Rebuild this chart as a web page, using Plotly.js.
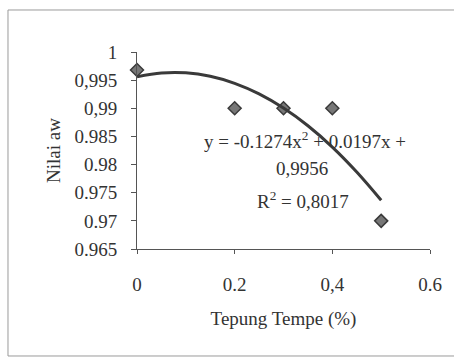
<!DOCTYPE html>
<html>
<head>
<meta charset="utf-8">
<script src="https://cdn.plot.ly/plotly-3.0.1.min.js"></script>
<style>
html,body{margin:0;padding:0;background:#fff;}
#chart{width:454px;height:358px;}
</style>
</head>
<body>
<div id="chart"></div>
<script>
// Observed data
var tepungTempe = [0, 0.2, 0.3, 0.4, 0.5];
var nilaiAw = [0.9968, 0.990, 0.990, 0.990, 0.970];

// Trendline points
var trendX = [0, 0.05, 0.1, 0.15, 0.2, 0.25, 0.3, 0.35, 0.4, 0.45, 0.5];
var trendY = [0.9956, 0.99627, 0.99630, 0.99569, 0.99444, 0.99256, 0.99004, 0.98689, 0.98310, 0.97867, 0.97365];

// Tick labels
var yTickVals = [0.965, 0.97, 0.975, 0.98, 0.985, 0.99, 0.995, 1];
var yTickText = ["0.965", "0.97", "0.975", "0.98", "0.985", "0,99", "0,995", "1"];
var xTickVals = [0, 0.2, 0.4, 0.6];
var xTickText = ["0", "0.2", "0,4", "0.6"];

var serif = "Liberation Serif, Times New Roman, serif";
var txtCol = "#333";

var traces = [
  {
    x: tepungTempe, y: nilaiAw, type: "scatter", mode: "markers",
    marker: {symbol: "diamond", size: 10, color: "#777", line: {color: "#3a3a3a", width: 1.5}},
    cliponaxis: false, hoverinfo: "skip"
  },
  {
    x: trendX, y: trendY, type: "scatter", mode: "lines",
    line: {color: "#3a3a3a", width: 3, shape: "spline"},
    cliponaxis: false, hoverinfo: "skip"
  }
];

var layout = {
  width: 454, height: 358,
  margin: {l: 137, r: 24, t: 52, b: 109},
  paper_bgcolor: "#fff", plot_bgcolor: "#fff",
  showlegend: false,
  font: {family: serif, size: 19, color: txtCol},
  xaxis: {
    range: [0, 0.6], tickvals: xTickVals, ticktext: xTickText,
    showgrid: false, zeroline: false, showline: true, linecolor: "#555", linewidth: 1,
    ticks: "outside", ticklen: 4, tickcolor: "#555",
    ticklabelstandoff: 14,
    tickfont: {family: serif, size: 19, color: txtCol},
    title: {text: "Tepung Tempe (%)", font: {family: serif, size: 19, color: txtCol}, standoff: 17}
  },
  yaxis: {
    range: [0.965, 1], tickvals: yTickVals, ticktext: yTickText,
    showgrid: false, zeroline: false, showline: true, linecolor: "#555", linewidth: 1,
    ticks: "outside", ticklen: 5, tickcolor: "#555",
    ticklabelstandoff: 10,
    tickfont: {family: serif, size: 19, color: txtCol},
    title: {text: "Nilai aw", font: {family: serif, size: 19, color: txtCol}, standoff: 8}
  },
  annotations: [
    {x: 0.344, y: 0.98437, xref: "x", yref: "y", text: "y = -0.1274x<sup>2</sup> + 0.0197x +", showarrow: false,
     font: {family: serif, size: 19, color: txtCol}},
    {x: 0.338, y: 0.97939, xref: "x", yref: "y", text: "0,9956", showarrow: false,
     font: {family: serif, size: 19, color: txtCol}},
    {x: 0.340, y: 0.97371, xref: "x", yref: "y", text: "R<sup>2</sup> = 0,8017", showarrow: false,
     font: {family: serif, size: 19, color: txtCol}}
  ],
  shapes: [
    {type: "rect", xref: "paper", yref: "paper", x0: -0.4403, x1: 1.1, y0: -0.5431, y1: 1.2132,
     line: {color: "#9a9a9a", width: 1}, fillcolor: "rgba(0,0,0,0)", layer: "below"}
  ]
};

Plotly.newPlot("chart", traces, layout, {displayModeBar: false, staticPlot: true});
</script>
</body>
</html>
